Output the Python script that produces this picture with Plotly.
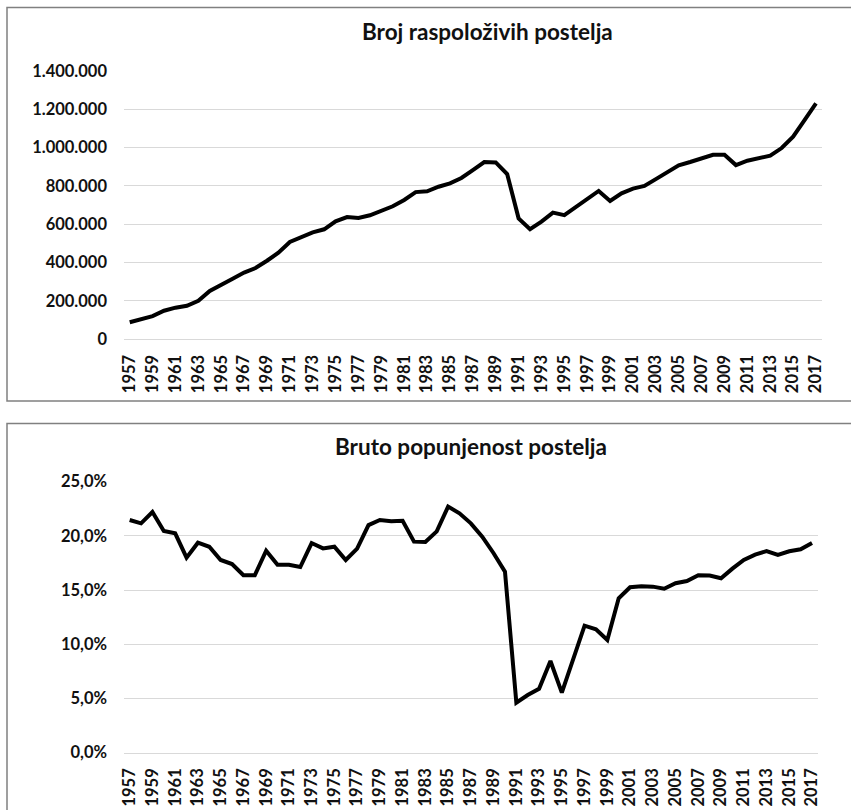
import plotly.graph_objects as go

years = list(range(1957, 2018))

beds = [
    89000, 104000, 121000, 149000, 165000, 175000, 201000, 252000, 282000, 316000,
    348000, 372000, 410000, 452000, 508000, 535000, 558000, 574000, 616000, 638000,
    633000, 647000, 669000, 694000, 727000, 768000, 772000, 796000, 814000, 842000,
    883000, 925000, 923000, 862000, 631000, 575000, 614000, 661000, 648000, 689000,
    730000, 774000, 722000, 762000, 786000, 800000, 836000, 869000, 908000, 925000,
    942000, 963000, 963000, 909000, 932000, 946000, 958000, 998000, 1057000, 1144000,
    1231000,
]

occupancy = [
    21.47, 21.16, 22.2, 20.45, 20.24, 17.99, 19.37, 19.0, 17.78, 17.4,
    16.37, 16.37, 18.64, 17.34, 17.34, 17.13, 19.34, 18.85, 19.0, 17.78,
    18.82, 21.0, 21.47, 21.35, 21.4, 19.47, 19.44, 20.42, 22.7, 22.08,
    21.16, 19.93, 18.4, 16.7, 4.61, 5.32, 5.9, 8.46, 5.54, 8.7,
    11.72, 11.38, 10.4, 14.24, 15.26, 15.35, 15.32, 15.13, 15.63, 15.84,
    16.37, 16.34, 16.09, 16.98, 17.78, 18.27, 18.6, 18.24, 18.58, 18.76,
    19.34,
]

title_top = "Broj raspoloživih postelja"
title_bottom = "Bruto popunjenost postelja"
beds_ticks = [0, 200000, 400000, 600000, 800000, 1000000, 1200000, 1400000]
beds_ticktext = ["0", "200.000", "400.000", "600.000", "800.000",
                 "1.000.000", "1.200.000", "1.400.000"]
occ_ticks = [0, 5, 10, 15, 20, 25]
occ_ticktext = ["0,0%", "5,0%", "10,0%", "15,0%", "20,0%", "25,0%"]
year_ticks = years[::2]

W, H = 851, 810
FONT = "Lato"
GRID = "#d9d9d9"
TXT = "#111111"


def px(x):
    return x / W


def py(y):
    return 1 - y / H


fig = go.Figure()
fig.add_trace(go.Scatter(x=years, y=beds, mode="lines", xaxis="x", yaxis="y",
                         line=dict(color="#000000", width=4), cliponaxis=False,
                         showlegend=False))
fig.add_trace(go.Scatter(x=years, y=occupancy, mode="lines", xaxis="x2", yaxis="y2",
                         line=dict(color="#000000", width=4), cliponaxis=False,
                         showlegend=False))

tickfont = dict(family=FONT, size=16.5, color=TXT, weight="bold")
titlefont = dict(family=FONT, size=22.5, color=TXT, weight="bold")

xcommon = dict(range=[1956.5, 2017.5], tickvals=year_ticks,
               ticktext=[str(y) for y in year_ticks], tickangle=-90,
               showgrid=False, zeroline=False, showline=True, linecolor=GRID,
               linewidth=1, ticks="", tickfont=tickfont, fixedrange=True,
               ticklabelstandoff=8, automargin=False)

ycommon = dict(showgrid=True, gridcolor=GRID, gridwidth=1, zeroline=False,
               showline=False, tickfont=tickfont, ticklabelstandoff=16,
               automargin=False, fixedrange=True)

fig.update_layout(
    width=W, height=H,
    margin=dict(l=0, r=0, t=0, b=0, autoexpand=False),
    paper_bgcolor="white", plot_bgcolor="white",
    xaxis=dict(domain=[px(124), px(821.7)], anchor="y", **xcommon),
    yaxis=dict(domain=[py(339.3), py(71)], anchor="x", range=[0, 1400000],
               tickvals=beds_ticks, ticktext=beds_ticktext, **ycommon),
    xaxis2=dict(domain=[px(124), px(817.7)], anchor="y2", **xcommon),
    yaxis2=dict(domain=[py(752.7), py(481.7)], anchor="x2", range=[0, 25],
                tickvals=occ_ticks, ticktext=occ_ticktext, **ycommon),
    annotations=[
        dict(text=title_top, x=px(487), y=py(31), xref="paper", yref="paper",
             xanchor="center", yanchor="middle", showarrow=False,
             font=titlefont),
        dict(text=title_bottom, x=px(471), y=py(447), xref="paper", yref="paper",
             xanchor="center", yanchor="middle", showarrow=False,
             font=titlefont),
    ],
    shapes=[
        dict(type="rect", xref="paper", yref="paper", x0=px(7), x1=1.02,
             y0=py(401), y1=py(7.5), line=dict(color="#808080", width=1.5)),
        dict(type="rect", xref="paper", yref="paper", x0=px(7), x1=1.02,
             y0=-0.05, y1=py(423.5), line=dict(color="#808080", width=1.5)),
    ],
)

fig.write_html("out.html")
